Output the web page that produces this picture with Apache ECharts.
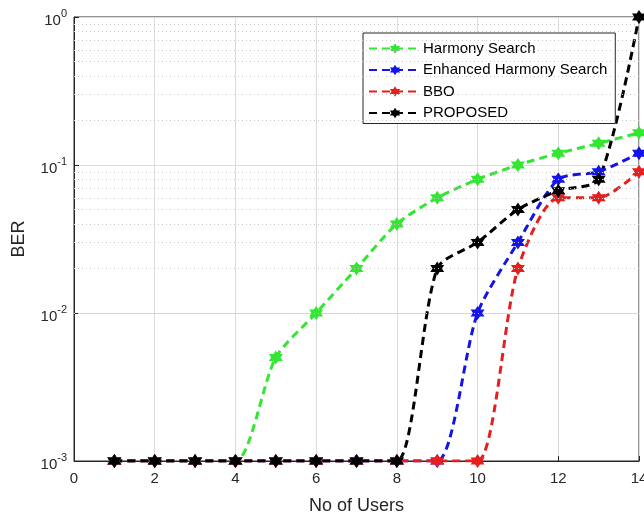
<!DOCTYPE html>
<html>
<head>
<meta charset="utf-8">
<script src="https://cdn.jsdelivr.net/npm/echarts@6/dist/echarts.min.js"></script>
<style>
  html, body { margin: 0; padding: 0; background: #fff; }
  #chart { width: 644px; height: 515px; }
</style>
</head>
<body>
<div id="chart"></div>
<script>
// 数据
const users = [1, 2, 3, 4, 5, 6, 7, 8, 9, 10, 11, 12, 13, 14]
const harmony = [0.001, 0.001, 0.001, 0.001, 0.005, 0.01, 0.02, 0.04, 0.06, 0.08, 0.1, 0.12, 0.14, 0.165]
const enhanced = [0.001, 0.001, 0.001, 0.001, 0.001, 0.001, 0.001, 0.001, 0.001, 0.01, 0.03, 0.08, 0.09, 0.12]
const bbo = [0.001, 0.001, 0.001, 0.001, 0.001, 0.001, 0.001, 0.001, 0.001, 0.001, 0.02, 0.06, 0.06, 0.09]
const proposed = [0.001, 0.001, 0.001, 0.001, 0.001, 0.001, 0.001, 0.001, 0.02, 0.03, 0.05, 0.067, 0.08, 1.0]
const xTicks = [0, 2, 4, 6, 8, 10, 12, 14]
const yDecades = [0.001, 0.01, 0.1, 1]

const names = ['Harmony Search', 'Enhanced Harmony Search', 'BBO', 'PROPOSED']
const colors = ['#33e633', '#1414e6', '#e61e1e', '#000000']

const hexagram = 'path://M10,0L12.89,5L18.66,5L15.77,10L18.66,15L12.89,15L10,20L7.11,15L1.34,15L4.23,10L1.34,5L7.11,5Z'

// 次网格线 (2..9 每个数量级)
const minorLines = []
for (let d = 0; d < yDecades.length - 1; d++) {
  for (let k = 2; k <= 9; k++) {
    minorLines.push({ yAxis: +(yDecades[d] * k).toPrecision(3) })
  }
}

const chart = echarts.init(document.getElementById('chart'))

const makeSeries = (name, data, color) => ({
  name: name,
  type: 'line',
  data: users.map((u, i) => [u, data[i]]),
  smooth: 0.25,
  symbol: hexagram,
  symbolSize: 14,
  color: color,
  lineStyle: { color: color, width: 3, type: [8, 5] },
  itemStyle: { color: color },
  z: 3
})

const option = {
  animation: false,
  textStyle: { fontFamily: 'Liberation Sans, Arial, sans-serif' },
  grid: {
    left: 74,
    right: 5,
    top: 17,
    bottom: 54,
    outerBoundsMode: 'none',
    containLabel: false,
    show: true,
    borderColor: '#262626',
    borderWidth: 1
  },
  legend: {
    data: names,
    orient: 'vertical',
    left: 363,
    top: 33,
    width: 254,
    backgroundColor: '#fff',
    borderColor: '#262626',
    borderWidth: 1,
    borderRadius: 0,
    padding: [8, 8, 3, 5],
    itemWidth: 52,
    itemHeight: 13,
    itemGap: 6.5,
    textStyle: { fontSize: 15, lineHeight: 15, color: '#000', padding: [0, 0, 0, -3] }
  },
  xAxis: {
    type: 'value',
    min: 0,
    max: 14,
    interval: 2,
    name: 'No of Users',
    nameLocation: 'middle',
    nameGap: 36,
    nameTextStyle: { fontSize: 18, color: '#262626' },
    axisLine: { show: true, lineStyle: { color: '#262626' } },
    axisTick: { inside: true, length: 5, lineStyle: { color: '#262626' } },
    axisLabel: {
      color: '#262626',
      fontSize: 15,
      margin: 10,
      formatter: v => (xTicks.includes(v) ? String(v) : '')
    },
    splitLine: { show: true, lineStyle: { color: '#dcdcdc', width: 1 } }
  },
  yAxis: {
    type: 'log',
    logBase: 10,
    min: yDecades[0],
    max: yDecades[yDecades.length - 1],
    name: 'BER',
    nameLocation: 'middle',
    nameGap: 46,
    nameTextStyle: { fontSize: 18, color: '#262626' },
    axisLine: { show: true, lineStyle: { color: '#262626' } },
    axisTick: { inside: true, length: 5, lineStyle: { color: '#262626' } },
    axisLabel: {
      color: '#262626',
      margin: 7,
      formatter: v => {
        const e = Math.round(Math.log10(v))
        return '{b|10}{s|' + e + '}'
      },
      rich: {
        b: { fontSize: 15, color: '#262626', padding: [7, 0, 0, 0] },
        s: { fontSize: 11, color: '#262626', padding: [0, 0, 7, 0] }
      }
    },
    splitLine: { show: true, lineStyle: { color: '#dcdcdc', width: 1 } }
  },
  series: [
    {
      name: 'minor',
      type: 'line',
      data: [],
      silent: true,
      z: 1,
      markLine: {
        silent: true,
        symbol: 'none',
        label: { show: false },
        lineStyle: { color: '#c8c8c8', type: [1, 3], width: 1 },
        emphasis: { disabled: true },
        data: minorLines
      }
    },
    makeSeries(names[0], harmony, colors[0]),
    makeSeries(names[1], enhanced, colors[1]),
    makeSeries(names[2], bbo, colors[2]),
    makeSeries(names[3], proposed, colors[3])
  ]
}

chart.setOption(option)

window.addEventListener('resize', () => chart.resize())
</script>
</body>
</html>
